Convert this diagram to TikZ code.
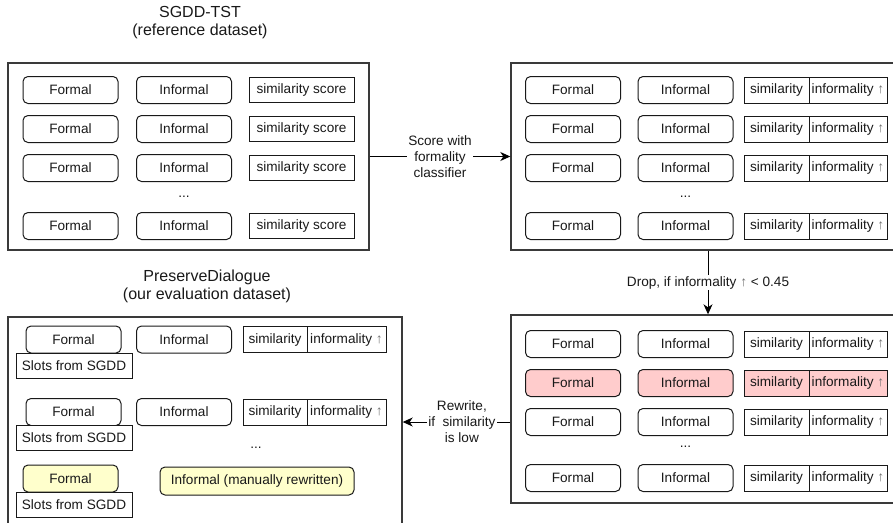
\documentclass[tikz,border=0pt]{standalone}
\usepackage{fontspec}
\setmainfont{Liberation Sans}
\usetikzlibrary{arrows.meta,calc}
\definecolor{pinkf}{HTML}{FFCCCC}
\definecolor{yelf}{HTML}{FFFFCC}
\definecolor{edgec}{HTML}{3A3A3A}
\newcommand{\myup}{\textcolor{black!55}{↑}}
\begin{document}
\begin{tikzpicture}[x=1pt,y=-1pt,
  base/.style={font=\fontsize{13.6}{16}\selectfont, text=black!90},
  outerbox/.style={draw=edgec, line width=1.4pt, inner sep=0pt},
  rbox/.style={base, draw=black!90, line width=1pt, rounded corners=5pt, minimum width=95pt, minimum height=27pt, inner sep=0pt},
  sbox/.style={base, draw=black!90, line width=1pt, minimum height=26pt, inner sep=0pt},
  titletext/.style={font=\fontsize{16}{18}\selectfont, align=center, text=black!90},
  lbl/.style={base, fill=white, align=center, inner sep=1pt},
  arr/.style={line width=1pt, -{Stealth[length=10pt,width=9pt,inset=3pt]}}]
\useasboundingbox (0,0) rectangle (893,522);
\clip (0,0) rectangle (893,522);
% ---------- Box A: SGDD-TST
\node[titletext] (tA) at (200,23) {SGDD-TST\\(reference dataset)};
\node[outerbox, minimum width=361pt, minimum height=187pt] (A) at (188.5,156.5) {};
\foreach \yy/\k in {90/1,129/2,168/3,226/4}{
  \node[rbox] (Af\k) at (70.5,\yy) {Formal};
  \node[rbox] (Ai\k) at (184,\yy) {Informal};
  \node[sbox, minimum width=105pt, minimum height=25pt] (As\k) at (301.5,\yy) {similarity score};
}
\node[base] (Ad) at (184,197) {...};
% ---------- Box B
\node[outerbox, minimum width=394pt, minimum height=187pt] (B) at (708,156.5) {};
\foreach \yy/\k in {90/1,129/2,168/3,226/4}{
  \node[rbox] (Bf\k) at (573,\yy) {Formal};
  \node[rbox] (Bi\k) at (685.5,\yy) {Informal};
  \node[sbox, minimum width=65pt] (Bs\k) at (776.5,\yy) {similarity};
  \node[sbox, minimum width=78pt] (Bn\k) at (848,\yy) {informality \myup};
}
\node[base] (Bd) at (685.5,197) {...};
% ---------- Box C
\node[outerbox, minimum width=394pt, minimum height=188pt] (C) at (708,409) {};
\foreach \yy/\k/\fc in {344/1/white,383/2/pinkf,422/3/white,478/4/white}{
  \node[rbox, fill=\fc] (Cf\k) at (573,\yy) {Formal};
  \node[rbox, fill=\fc] (Ci\k) at (685.5,\yy) {Informal};
  \node[sbox, fill=\fc, minimum width=65pt] (Cs\k) at (776.5,\yy) {similarity};
  \node[sbox, fill=\fc, minimum width=78pt] (Cn\k) at (848,\yy) {informality \myup};
}
\node[base] (Cd) at (685.5,447) {...};
% ---------- Box D: PreserveDialogue
\node[titletext] (tD) at (207,286) {PreserveDialogue\\(our evaluation dataset)};
\node[outerbox, minimum width=394pt, minimum height=226pt] (D) at (205,430) {};
\foreach \yy/\k in {339.5/1,412/2}{
  \node[rbox] (Df\k) at (73.5,\yy) {Formal};
  \node[sbox, fill=white, minimum width=116pt, minimum height=25pt] (Dl\k) at (74,\yy+26) {Slots from SGDD};
  \node[rbox] (Di\k) at (184,\yy) {Informal};
  \node[sbox, minimum width=64pt] (Ds\k) at (275,\yy) {similarity};
  \node[sbox, minimum width=79pt] (Dn\k) at (346.5,\yy) {informality \myup};
}
\node[base] (Dd) at (256,448) {...};
\node[rbox, fill=yelf] (Df3) at (70.5,478.5) {Formal};
\node[sbox, fill=white, minimum width=116pt, minimum height=25pt] (Dl3) at (74,504.5) {Slots from SGDD};
\node[rbox, fill=yelf, minimum width=194pt, minimum height=28pt] (Di3) at (257,481) {Informal (manually rewritten)};
% ---------- connectors
\draw[arr] (A.east) -- node[lbl] (l1) {Score with\\formality\\classifier} (B.west);
\draw[arr] (B.south) -- node[lbl] (l2) {Drop, if informality \myup{} < 0.45} (C.north);
\draw[arr] (C.west |- Cf3) -- node[lbl, pos=0.45] (l3) {Rewrite,\\if\ \ similarity\\is low} (D.east |- Cf3);
\end{tikzpicture}
\end{document}
